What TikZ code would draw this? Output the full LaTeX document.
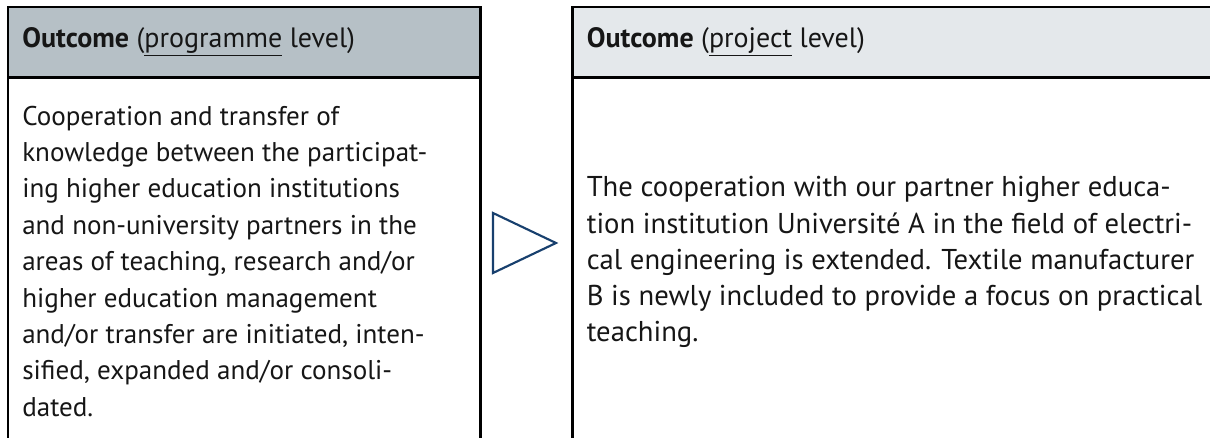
\documentclass[tikz,border=0pt]{standalone}
\usepackage{fontspec}
\setmainfont{PT Sans}
\usetikzlibrary{positioning}

\definecolor{progGrey}{RGB}{182,192,198}
\definecolor{projGrey}{RGB}{228,232,235}
\definecolor{arrowBlue}{RGB}{24,64,110}
\definecolor{inkBlack}{RGB}{22,22,22}

\begin{document}
\begin{tikzpicture}[
    x=0.75pt, y=-0.75pt,
    node distance=69pt,
    head/.style={rectangle, inner sep=0pt, minimum height=52.5pt},
    progHeadbox/.style={head, fill=progGrey, minimum width=354pt},
    projHeadbox/.style={head, fill=projGrey, minimum width=478.5pt},
    titletext/.style={inner sep=0pt, anchor=west, text=inkBlack, font=\fontsize{21pt}{24pt}\selectfont},
    bodytext/.style={inner sep=0pt, align=left, anchor=north west, text=inkBlack, font=\fontsize{20.3pt}{27.3pt}\selectfont},
    bodywide/.style={bodytext, font=\fontsize{21.5pt}{27.2pt}\selectfont},
    frame/.style={draw=black, line width=1.9pt},
    tri/.style={draw=arrowBlue, line width=1.6pt, line join=miter}
]
    \useasboundingbox (0,0) rectangle (1210,438);
    \coordinate (bottom) at (0,438);

    % Headers
    \node [progHeadbox, anchor=north west] (progHead) at (8,7) {};
    \node [projHeadbox, right=of progHead] (projHead) {};
    \node [titletext] (progTitle) at ([xshift=10.5pt]progHead.west) {\textbf{Outcome} (\underline{programme} level)};
    \node [titletext] (projTitle) at ([xshift=10.5pt]projHead.west) {\textbf{Outcome} (\underline{project} level)};

    % Frames
    \draw [frame] (progHead.south west |- bottom) -- (progHead.north west) -- (progHead.north east) -- (progHead.north east |- bottom);
    \draw [frame] (progHead.south west) -- (progHead.south east);
    \draw [frame] (projHead.south west |- bottom) -- (projHead.north west) -- (projHead.north east);
    \draw [frame] (projHead.south west) -- (projHead.south east);

    % Body text
    \node [bodytext] (progText) at ([xshift=10.5pt, yshift=-21pt]progHead.south west)
        {Cooperation and transfer of\\knowledge between the participat-\\ing higher education institutions\\and non-university partners in the\\areas of teaching, research and/or\\higher education management\\and/or transfer are initiated, inten-\\sified, expanded and/or consoli-\\dated.};
    \node [bodywide] (projText) at ([xshift=10.5pt, yshift=-74pt]projHead.south west)
        {The cooperation with our partner higher educa-\\tion institution Université A in the field of electri-\\cal engineering is extended. Textile manufacturer\\B is newly included to provide a focus on practical\\teaching.};

    % Arrow
    \draw [tri] (493,213) -- (556,243) -- (493,273) -- cycle;
\end{tikzpicture}
\end{document}
